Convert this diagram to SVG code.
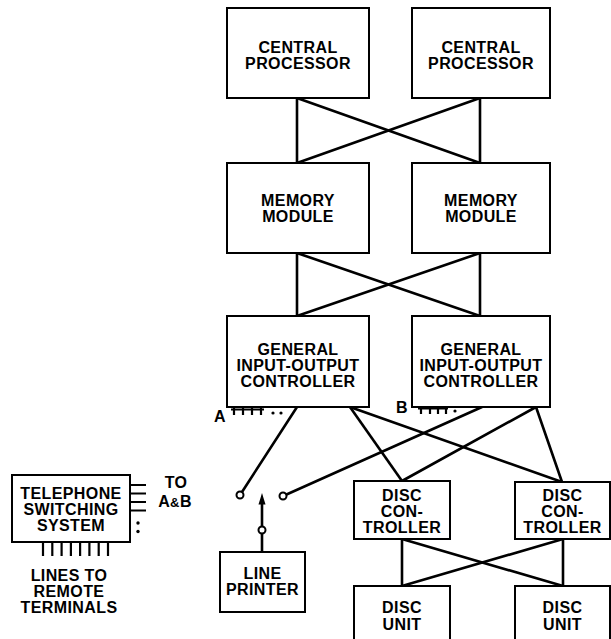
<svg xmlns="http://www.w3.org/2000/svg" width="611" height="639" viewBox="0 0 611 639">
  <style>
    .box { fill: #fff; stroke: #000; stroke-width: 2; }
    .wire { fill: none; stroke: #000; stroke-width: 2.6; stroke-linecap: round; }
    .tick { fill: none; stroke: #000; stroke-width: 2.2; }
    .port { fill: #fff; stroke: #000; stroke-width: 2; }
    text { font-family: "Liberation Sans", Arial, sans-serif; font-size: 16px; font-weight: bold; letter-spacing: 0.4px; fill: #000; text-anchor: middle; }
  </style>
  <rect width="611" height="639" fill="#fff"/>

  <!-- connectors -->
  <g id="connectors">
    <!-- processors to memory -->
    <line class="wire" x1="297" y1="98" x2="297" y2="163"/>
    <line class="wire" x1="480" y1="98" x2="480" y2="163"/>
    <line class="wire" x1="297" y1="98" x2="480" y2="163"/>
    <line class="wire" x1="480" y1="98" x2="297" y2="163"/>
    <!-- memory to I/O controllers -->
    <line class="wire" x1="297" y1="253" x2="297" y2="316"/>
    <line class="wire" x1="480" y1="253" x2="480" y2="316"/>
    <line class="wire" x1="297" y1="253" x2="480" y2="316"/>
    <line class="wire" x1="480" y1="253" x2="297" y2="316"/>
    <!-- I/O controllers to printer switch contacts -->
    <line class="wire" x1="297" y1="407" x2="242" y2="492"/>
    <line class="wire" x1="482" y1="407" x2="286.5" y2="494.5"/>
    <!-- I/O controllers to disc controllers -->
    <line class="wire" x1="350" y1="407" x2="402" y2="481"/>
    <line class="wire" x1="350" y1="407" x2="562" y2="482"/>
    <line class="wire" x1="536" y1="407" x2="402" y2="481"/>
    <line class="wire" x1="536" y1="407" x2="562" y2="482"/>
    <!-- disc controllers to disc units -->
    <line class="wire" x1="402" y1="539" x2="402" y2="586"/>
    <line class="wire" x1="563" y1="539" x2="563" y2="586"/>
    <line class="wire" x1="402" y1="539" x2="563" y2="586"/>
    <line class="wire" x1="563" y1="539" x2="402" y2="586"/>
    <!-- printer switch -->
    <line class="wire" x1="262" y1="552" x2="262" y2="533.5"/>
    <line class="wire" x1="262" y1="526.5" x2="262" y2="503"/>
    <polygon points="262,493 258.5,504.5 265.5,504.5" fill="#000"/>
    <circle class="port" cx="240" cy="495" r="3.5"/>
    <circle class="port" cx="283" cy="496" r="3.5"/>
    <circle class="port" cx="262" cy="530" r="3.5"/>
  </g>

  <g id="cp1">
    <rect class="box" x="227" y="8" width="142" height="90"/>
    <text x="298" y="52.5">CENTRAL</text>
    <text x="298" y="68.5">PROCESSOR</text>
  </g>
  <g id="cp2">
    <rect class="box" x="412" y="8" width="138" height="90"/>
    <text x="481" y="52.5">CENTRAL</text>
    <text x="481" y="68.5">PROCESSOR</text>
  </g>

  <g id="mm1">
    <rect class="box" x="227" y="163" width="142" height="90"/>
    <text x="298" y="206">MEMORY</text>
    <text x="298" y="222">MODULE</text>
  </g>
  <g id="mm2">
    <rect class="box" x="412" y="163" width="138" height="90"/>
    <text x="481" y="206">MEMORY</text>
    <text x="481" y="222">MODULE</text>
  </g>

  <g id="gioc1">
    <rect class="box" x="227" y="316" width="142" height="91"/>
    <text x="298" y="354.5">GENERAL</text>
    <text x="298" y="370.5">INPUT-OUTPUT</text>
    <text x="298" y="386.5">CONTROLLER</text>
    <!-- port A -->
    <text x="220" y="422">A</text>
    <path class="tick" d="M231 409.5 H264 M234 408 V415 M243 408 V415 M252 408 V415 M261 408 V415"/>
    <circle cx="273" cy="413" r="1.6"/>
    <circle cx="281" cy="413" r="1.6"/>
  </g>
  <g id="gioc2">
    <rect class="box" x="412" y="316" width="138" height="91"/>
    <text x="481" y="354.5">GENERAL</text>
    <text x="481" y="370.5">INPUT-OUTPUT</text>
    <text x="481" y="386.5">CONTROLLER</text>
    <!-- port B -->
    <text x="402" y="412.5">B</text>
    <path class="tick" d="M418 408.5 H448 M421 407 V414 M430 407 V414 M438 407 V414 M446 407 V414"/>
    <circle cx="455" cy="411" r="1.6"/>
  </g>

  <g id="dc1">
    <rect class="box" x="354" y="481" width="96" height="58"/>
    <text x="402" y="500.5">DISC</text>
    <text x="402" y="516.5">CON-</text>
    <text x="402" y="532.5">TROLLER</text>
  </g>
  <g id="dc2">
    <rect class="box" x="515" y="482" width="95" height="57"/>
    <text x="562.5" y="500.5">DISC</text>
    <text x="562.5" y="516.5">CON-</text>
    <text x="562.5" y="532.5">TROLLER</text>
  </g>

  <g id="du1">
    <rect class="box" x="354" y="586" width="96" height="70"/>
    <text x="402" y="613">DISC</text>
    <text x="402" y="629.5">UNIT</text>
  </g>
  <g id="du2">
    <rect class="box" x="515" y="586" width="95" height="70"/>
    <text x="562.5" y="613">DISC</text>
    <text x="562.5" y="629.5">UNIT</text>
  </g>

  <g id="printer">
    <rect class="box" x="220" y="552" width="85" height="60"/>
    <text x="262.5" y="579">LINE</text>
    <text x="262.5" y="595">PRINTER</text>
  </g>

  <g id="tss">
    <rect class="box" x="12" y="475" width="118" height="67"/>
    <text x="71" y="498.5">TELEPHONE</text>
    <text x="71" y="514.5">SWITCHING</text>
    <text x="71" y="531">SYSTEM</text>
    <!-- outgoing trunk lines -->
    <path class="tick" d="M130 485 H146 M130 493.5 H146 M130 502 H146 M130 510.5 H146"/>
    <circle cx="138" cy="523" r="1.7"/>
    <circle cx="138" cy="531.5" r="1.7"/>
    <text x="176" y="487.5">TO</text>
    <text x="175" y="506.5" letter-spacing="1.5">A<tspan font-size="13">&amp;</tspan>B</text>
    <!-- remote terminal lines -->
    <path class="tick" stroke-width="2.6" d="M43 542 V556 M52.3 542 V556 M61.6 542 V556 M70.9 542 V556 M80.1 542 V556 M89.4 542 V556 M98.7 542 V556 M108 542 V556"/>
    <text x="69" y="581">LINES TO</text>
    <text x="69" y="597">REMOTE</text>
    <text x="69" y="613">TERMINALS</text>
  </g>
</svg>
